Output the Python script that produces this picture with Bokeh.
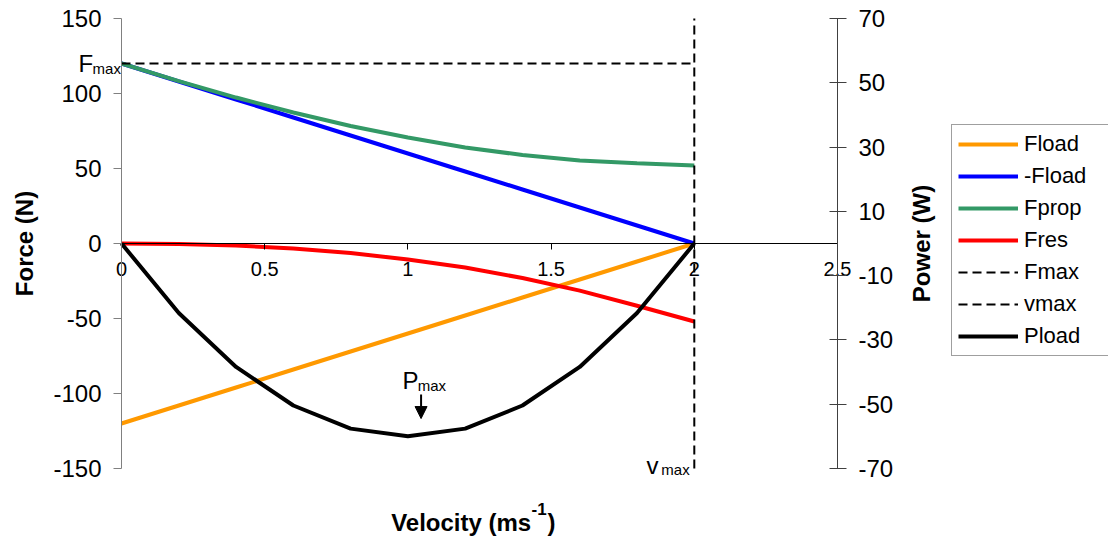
from bokeh.plotting import figure
from bokeh.models import (Range1d, LinearAxis, FixedTicker, Legend, LegendItem, Label,
                          Arrow, NormalHead, CustomJSTickFormatter)
from bokeh.embed import file_html
from bokeh.resources import INLINE
import math

# ---- data ----
velocity = [0.0, 0.2, 0.4, 0.6, 0.8, 1.0, 1.2, 1.4, 1.6, 1.8, 2.0]
fload = [-120, -108, -96, -84, -72, -60, -48, -36, -24, -12, 0]
neg_fload = [120, 108, 96, 84, 72, 60, 48, 36, 24, 12, 0]
fprop = [120, 108.3, 97.3, 87.3, 78.3, 70.7, 64.0, 59.0, 55.4, 53.5, 52.0]
fres = [0, -0.3, -1.3, -3.3, -6.3, -10.7, -16.0, -23.0, -31.4, -41.5, -52.0]
pload = [0, -21.6, -38.4, -50.4, -57.6, -60.0, -57.6, -50.4, -38.4, -21.6, 0]
fmax_x = [0, 2]
fmax_y = [120, 120]
vmax_x = [2, 2]
vmax_y = [-150, 150]

x_ticks = [0, 0.5, 1, 1.5, 2, 2.5]
force_ticks = [-150, -100, -50, 0, 50, 100, 150]
power_ticks = [-70, -50, -30, -10, 10, 30, 50, 70]

FONT = "Liberation Sans"
W, H = 1108, 536

# the frame covers the whole canvas; axes are drawn at fixed locations inside it
p = figure(width=W, height=H, output_backend="svg", toolbar_location=None,
           x_range=Range1d(-0.42249, 3.44623), y_range=Range1d(-195.333, 162.0),
           min_border=0, min_border_left=0, min_border_right=0,
           min_border_top=0, min_border_bottom=0)
p.title.visible = False
p.extra_y_ranges = {"power": Range1d(-91.156, 75.6)}
p.outline_line_color = None
p.xgrid.visible = False
p.ygrid.visible = False
p.background_fill_color = "white"
p.border_fill_color = "white"

# x axis along y = 0
xa = p.xaxis[0]
xa.fixed_location = 0
xa.bounds = (0, 2.5)
xa.ticker = FixedTicker(ticks=x_ticks)
xa.formatter = CustomJSTickFormatter(code="return tick.toString()")
xa.minor_tick_line_color = None
xa.axis_line_color = "black"
xa.major_tick_line_color = "black"
xa.major_tick_out = 6
xa.major_tick_in = 0
xa.major_label_text_font = FONT
xa.major_label_text_font_size = "20px"
xa.major_label_text_color = "black"
xa.major_label_standoff = 12

# left axis along x = 0
ya = p.yaxis[0]
ya.fixed_location = 0
ya.bounds = (-150, 150)
ya.ticker = FixedTicker(ticks=force_ticks)
ya.formatter = CustomJSTickFormatter(code="return tick.toString()")
ya.minor_tick_line_color = None
ya.axis_line_color = "#808080"
ya.major_tick_line_color = "#808080"
ya.major_tick_out = 8
ya.major_tick_in = 0
ya.major_label_text_font = FONT
ya.major_label_text_font_size = "24px"
ya.major_label_text_color = "black"
ya.major_label_standoff = 12
ya.axis_label = "Force (N)"
ya.axis_label_text_font = FONT
ya.axis_label_text_font_size = "24px"
ya.axis_label_text_font_style = "bold"
ya.axis_label_text_color = "black"
ya.axis_label_standoff = 12

# right axis along x = 2.5
ra = LinearAxis(y_range_name="power", ticker=FixedTicker(ticks=power_ticks),
                formatter=CustomJSTickFormatter(code="return tick.toString()"))
ra.fixed_location = 2.5
ra.bounds = (-70, 70)
ra.minor_tick_line_color = None
ra.axis_line_color = "#404040"
ra.major_tick_line_color = "#404040"
ra.major_tick_out = 9
ra.major_tick_in = 8
ra.major_label_text_font = FONT
ra.major_label_text_font_size = "24px"
ra.major_label_text_color = "black"
ra.major_label_standoff = 12
p.add_layout(ra, "right")

# ---- series ----
r_fload = p.line(velocity, fload, line_color="#FF9900", line_width=4)
r_nfload = p.line(velocity, neg_fload, line_color="#0000FF", line_width=4)
r_fprop = p.line(velocity, fprop, line_color="#339966", line_width=4)
r_fres = p.line(velocity, fres, line_color="#FF0000", line_width=4)
r_fmax = p.line(fmax_x, fmax_y, line_color="black", line_width=2, line_dash="9 5")
r_vmax = p.line(vmax_x, vmax_y, line_color="black", line_width=2, line_dash="9 5")
r_pload = p.line(velocity, pload, line_color="black", line_width=4, y_range_name="power")

legend = Legend(items=[
    LegendItem(label="Fload", renderers=[r_fload]),
    LegendItem(label="-Fload", renderers=[r_nfload]),
    LegendItem(label="Fprop", renderers=[r_fprop]),
    LegendItem(label="Fres", renderers=[r_fres]),
    LegendItem(label="Fmax", renderers=[r_fmax]),
    LegendItem(label="vmax", renderers=[r_vmax]),
    LegendItem(label="Pload", renderers=[r_pload]),
], location=(951, 180))
legend.label_text_font = FONT
legend.label_text_font_size = "22px"
legend.label_text_color = "black"
legend.glyph_width = 60
legend.glyph_height = 26
legend.label_height = 26
legend.label_width = 80
legend.label_standoff = 6
legend.spacing = 6
legend.padding = 6
legend.margin = 0
legend.border_line_color = "#404040"
legend.border_line_width = 1
legend.background_fill_alpha = 1
p.add_layout(legend)

# ---- annotations ----
def lab(x, y, text, size, style="normal", align="left", baseline="alphabetic", angle=0.0):
    p.add_layout(Label(x=x, y=y, text=text, text_font=FONT, text_font_size=size,
                       text_font_style=style, text_align=align, text_baseline=baseline,
                       text_color="black", angle=angle))

lab(-0.150, 120.0, "F", "24px")
lab(-0.101, 116.7, "max", "15px")
lab(0.981, -91.3, "P", "24px")
lab(1.034, -94.7, "max", "15px")
lab(1.833, -148.0, "v", "24px")
lab(1.885, -150.7, "max", "15px")
lab(1.4305, -186.0, "Velocity (ms", "24px", "bold", align="right")
lab(1.4316, -177.0, "-1", "17px", "bold")
lab(1.487, -186.0, ")", "24px", "bold")
lab(2.793, 0.0, "Power (W)", "24px", "bold", align="center", baseline="middle", angle=math.pi / 2)

p.add_layout(Arrow(end=NormalHead(size=12, fill_color="black", line_color="black"),
                   x_start=1.046, y_start=-100.7, x_end=1.046, y_end=-116.7,
                   line_color="black", line_width=2))

open("out.html", "w").write(file_html(p, INLINE))
